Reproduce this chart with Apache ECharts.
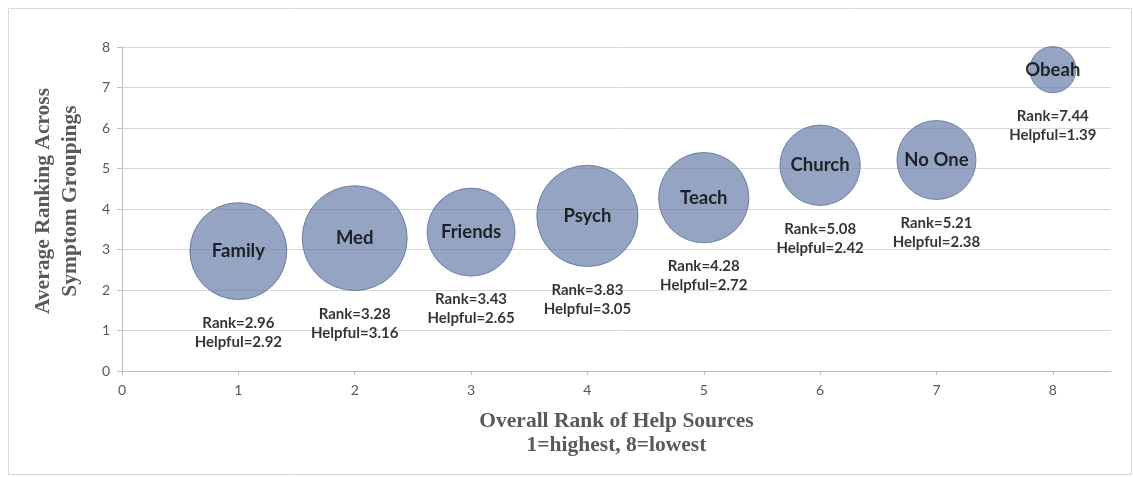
<!DOCTYPE html>
<html>
<head>
<meta charset="utf-8">
<script src="https://cdn.jsdelivr.net/npm/echarts@6/dist/echarts.min.js"></script>
<style>html,body{margin:0;padding:0;background:#fff;}#c{width:1133px;height:477px;}</style>
</head>
<body>
<div id="c"></div>
<script>
const names = ['Family', 'Med', 'Friends', 'Psych', 'Teach', 'Church', 'No One', 'Obeah'];
const overallRank = [1, 2, 3, 4, 5, 6, 7, 8];
const avgRank = [2.96, 3.28, 3.43, 3.83, 4.28, 5.08, 5.21, 7.44];
const helpful = [2.92, 3.16, 2.65, 3.05, 2.72, 2.42, 2.38, 1.39];
const xTicks = [0, 1, 2, 3, 4, 5, 6, 7, 8];
const yTicks = [0, 1, 2, 3, 4, 5, 6, 7, 8];

const data = names.map((n, i) => ({ name: n, value: [overallRank[i], avgRank[i], helpful[i]] }));
const sizeOf = v => v[2] * 33.2;

const chart = echarts.init(document.getElementById('c'));
chart.setOption({
  animation: false,
  graphic: [{
    type: 'rect', shape: { x: 8.5, y: 8.5, width: 1123, height: 466 },
    style: { fill: 'none', stroke: '#d9d9d9', lineWidth: 1 }, silent: true, z: -10
  }],
  grid: { left: 122, right: 22, top: 47, bottom: 106 },
  xAxis: {
    type: 'value', min: 0, max: 8.5, interval: 1,
    name: 'Overall Rank of Help Sources\n1=highest, 8=lowest',
    nameLocation: 'middle', nameGap: 38,
    nameTextStyle: { fontFamily: 'Liberation Serif', fontWeight: 'bold', fontSize: 21.5, color: '#595959', lineHeight: 24 },
    axisLine: { show: true, lineStyle: { color: '#bfbfbf', width: 1 } },
    axisTick: { show: true, length: 4, customValues: xTicks, lineStyle: { color: '#bfbfbf' } },
    axisLabel: { customValues: xTicks, fontFamily: 'Lato', fontSize: 14, color: '#595959', margin: 12 },
    splitLine: { show: false }
  },
  yAxis: {
    type: 'value', min: 0, max: 8, interval: 1,
    name: 'Average Ranking Across\nSymptom Groupings',
    nameLocation: 'middle', nameGap: 38, nameRotate: 90,
    nameTextStyle: { fontFamily: 'Liberation Serif', fontWeight: 'bold', fontSize: 21.5, color: '#595959', lineHeight: 27, padding: [0, 0, 0, 16] },
    axisLine: { show: true, lineStyle: { color: '#bfbfbf', width: 1 } },
    axisTick: { show: true, length: 5, customValues: yTicks, lineStyle: { color: '#bfbfbf' } },
    axisLabel: { customValues: yTicks, fontFamily: 'Lato', fontSize: 14, color: '#595959', margin: 12 },
    splitLine: { show: true, lineStyle: { color: '#d9d9d9', width: 1 } }
  },
  series: [
    {
      type: 'scatter', data: data, symbolSize: sizeOf, z: 2,
      itemStyle: { color: 'rgba(100,122,165,0.85)', borderColor: '#5a6e99', borderWidth: 1 },
      label: { show: true, position: 'inside', formatter: p => p.name, fontFamily: 'Lato', fontWeight: 'bold', fontSize: 18.5, color: '#000' }
    },
    {
      type: 'scatter', data: data, symbolSize: sizeOf, z: 3, silent: true,
      itemStyle: { color: 'rgba(0,0,0,0)', borderWidth: 0 },
      label: {
        show: true, position: 'bottom', distance: 14,
        formatter: p => 'Rank=' + p.value[1].toFixed(2) + '\nHelpful=' + p.value[2].toFixed(2),
        fontFamily: 'Lato', fontWeight: 'bold', fontSize: 15, lineHeight: 19, color: '#000', align: 'center'
      }
    }
  ]
});
</script>
</body>
</html>
